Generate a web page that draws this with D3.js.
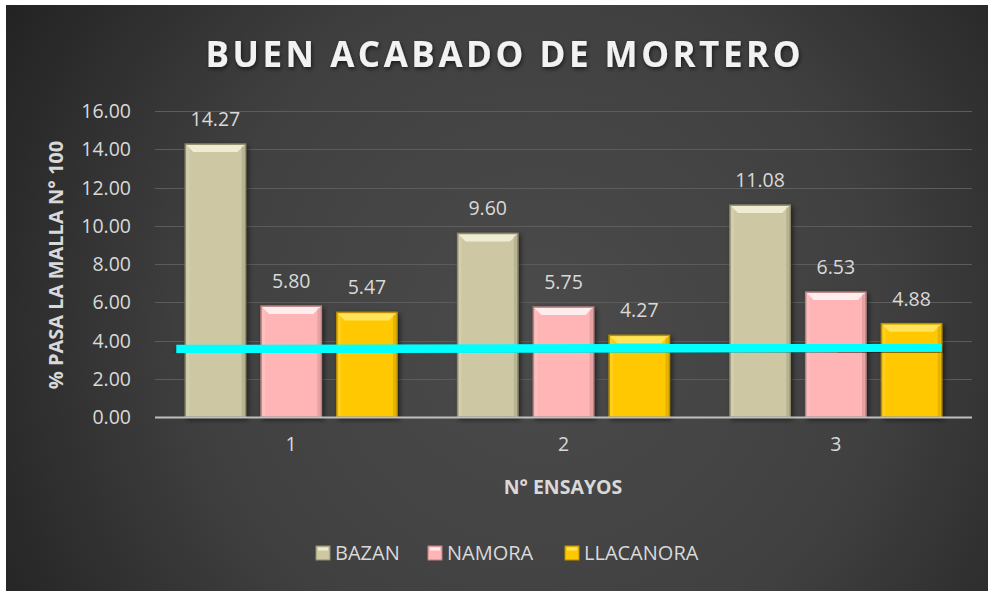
<!DOCTYPE html>
<html>
<head>
<meta charset="utf-8">
<script src="https://cdn.jsdelivr.net/npm/d3@7"></script>
<style>
  html, body { margin: 0; padding: 0; background: #fff; }
  svg { display: block; }
</style>
</head>
<body>
<svg id="chart" width="988" height="591"></svg>
<script>
// Chart data
const ensayos = ['1', '2', '3'];
const series = ['BAZAN', 'NAMORA', 'LLACANORA'];
const bazan = [14.27, 9.60, 11.08];
const namora = [5.80, 5.75, 6.53];
const llacanora = [5.47, 4.27, 4.88];
const limite = [3.55, 3.63];
const yTicks = [0, 2, 4, 6, 8, 10, 12, 14, 16];

const width = 988;
const height = 591;
const margin = {top: 111, right: 16, bottom: 174, left: 155};
const colors = {
  BAZAN: {fill: '#cdc8a3', top: '#f2efd8', edge: '#8f8b6c'},
  NAMORA: {fill: '#ffb5b5', top: '#fff2f2', edge: '#b98383'},
  LLACANORA: {fill: '#ffc800', top: '#ffe566', edge: '#b88f00'},
};
const textColor = '#d9d9d9';
const font = '"Open Sans", "Liberation Sans", sans-serif';

const values = {BAZAN: bazan, NAMORA: namora, LLACANORA: llacanora};
const rows = ensayos.map((e, i) => ({
  ensayo: e,
  bars: series.map((s) => ({serie: s, value: values[s][i]})),
}));

const svg = d3.select('#chart');
const defs = svg.append('defs');

// Background gradient
const bg = defs.append('radialGradient')
    .attr('id', 'bg')
    .attr('gradientUnits', 'userSpaceOnUse')
    .attr('cx', 540).attr('cy', 330).attr('r', 620);
bg.append('stop').attr('offset', '0%').attr('stop-color', '#4b4b4b');
bg.append('stop').attr('offset', '55%').attr('stop-color', '#404040');
bg.append('stop').attr('offset', '100%').attr('stop-color', '#232323');

const shadow = defs.append('filter').attr('id', 'shadow')
    .attr('x', '-20%').attr('y', '-20%').attr('width', '140%').attr('height', '140%');
shadow.append('feDropShadow').attr('dx', 2).attr('dy', 2)
    .attr('stdDeviation', 2.5).attr('flood-color', '#000').attr('flood-opacity', 0.55);

const lineShadow = defs.append('filter').attr('id', 'lineShadow')
    .attr('x', '-5%').attr('y', '-200%').attr('width', '110%').attr('height', '500%');
lineShadow.append('feDropShadow').attr('dx', 0).attr('dy', 4)
    .attr('stdDeviation', 2).attr('flood-color', '#000').attr('flood-opacity', 0.5);

const titleShadow = defs.append('filter').attr('id', 'titleShadow');
titleShadow.append('feDropShadow').attr('dx', 1).attr('dy', 2)
    .attr('stdDeviation', 2).attr('flood-color', '#000').attr('flood-opacity', 0.6);

svg.append('rect')
    .attr('x', 6).attr('y', 5)
    .attr('width', width - 6).attr('height', height - 5)
    .attr('fill', 'url(#bg)');

// Scales
const x0 = d3.scaleBand()
    .domain(ensayos)
    .range([margin.left, width - margin.right])
    .padding(0);
const x1 = d3.scaleBand()
    .domain(series)
    .range([0, x0.bandwidth()])
    .paddingInner(0.205)
    .paddingOuter(0.4);
const y = d3.scaleLinear()
    .domain([0, 16])
    .range([height - margin.bottom, margin.top]);

// Gridlines
svg.append('g')
    .selectAll('line')
    .data(yTicks.slice(1))
    .join('line')
    .attr('x1', margin.left)
    .attr('x2', width - margin.right)
    .attr('y1', (d) => Math.round(y(d)) + 0.5)
    .attr('y2', (d) => Math.round(y(d)) + 0.5)
    .attr('stroke', '#5c5c5c')
    .attr('stroke-width', 1.2);

// Y axis
const yAxis = d3.axisLeft(y)
    .tickValues(yTicks)
    .tickFormat(d3.format('.2f'))
    .tickSize(0)
    .tickPadding(0);
const gy = svg.append('g')
    .attr('transform', `translate(131,0)`)
    .call(yAxis);
gy.select('.domain').remove();
gy.selectAll('text')
    .attr('fill', textColor)
    .attr('font-family', font)
    .attr('font-size', 19.5)
    .attr('dy', '0.34em');

// Bars
const groups = svg.append('g')
    .selectAll('g')
    .data(rows)
    .join('g')
    .attr('transform', (d) => `translate(${x0(d.ensayo)},0)`);

const bar = groups.selectAll('g')
    .data((d) => d.bars)
    .join('g');

const bw = x1.bandwidth();
const bev = 8;

bar.append('rect')
    .attr('x', (d) => x1(d.serie))
    .attr('y', (d) => y(d.value))
    .attr('width', bw)
    .attr('height', (d) => y(0) - y(d.value))
    .attr('fill', (d) => colors[d.serie].fill)
    .attr('stroke', (d) => colors[d.serie].edge)
    .attr('stroke-width', 1.5)
    .attr('filter', 'url(#shadow)');

// Bevel top
bar.append('path')
    .attr('d', (d) => {
      const xs = x1(d.serie);
      const ys = y(d.value);
      return `M${xs + 1},${ys + 1}L${xs + bw - 1},${ys + 1}` +
        `L${xs + bw - bev},${ys + bev}L${xs + bev},${ys + bev}Z`;
    })
    .attr('fill', (d) => colors[d.serie].top)
    .attr('opacity', 0.9);

// Bevel sides
bar.append('rect')
    .attr('x', (d) => x1(d.serie) + 1)
    .attr('y', (d) => y(d.value) + 2)
    .attr('width', 3)
    .attr('height', (d) => Math.max(0, y(0) - y(d.value) - 3))
    .attr('fill', '#fff')
    .attr('opacity', 0.12);
bar.append('rect')
    .attr('x', (d) => x1(d.serie) + bw - 4)
    .attr('y', (d) => y(d.value) + 2)
    .attr('width', 3)
    .attr('height', (d) => Math.max(0, y(0) - y(d.value) - 3))
    .attr('fill', '#000')
    .attr('opacity', 0.1);

// Value labels
bar.append('text')
    .attr('x', (d) => x1(d.serie) + bw / 2)
    .attr('y', (d) => y(d.value) - 18)
    .attr('text-anchor', 'middle')
    .attr('fill', textColor)
    .attr('font-family', font)
    .attr('font-size', 19.5)
    .text((d) => d.value.toFixed(2));

// X axis baseline
svg.append('line')
    .attr('x1', margin.left)
    .attr('x2', width - margin.right)
    .attr('y1', y(0) + 0.5)
    .attr('y2', y(0) + 0.5)
    .attr('stroke', '#bfbfbf')
    .attr('stroke-width', 2);

const xAxis = d3.axisBottom(x0).tickSize(0).tickPadding(0);
const gx = svg.append('g')
    .attr('transform', `translate(0,${y(0)})`)
    .call(xAxis);
gx.select('.domain').remove();
gx.selectAll('text')
    .attr('fill', textColor)
    .attr('font-family', font)
    .attr('font-size', 19.5)
    .attr('dy', '1.72em');

// Limit line
const lineX = d3.scaleLinear()
    .domain([0, limite.length - 1])
    .range([x0(ensayos[0]) + x1(series[0]) - 9,
      x0(ensayos[ensayos.length - 1]) + x1(series[series.length - 1]) + bw]);
svg.append('path')
    .datum(limite)
    .attr('d', d3.line().x((d, i) => lineX(i)).y((d) => y(d)))
    .attr('fill', 'none')
    .attr('stroke', '#00ffff')
    .attr('stroke-width', 8.5)
    .attr('filter', 'url(#lineShadow)');

// Title
svg.append('text')
    .attr('x', 503)
    .attr('y', 67)
    .attr('text-anchor', 'middle')
    .attr('fill', '#f2f2f2')
    .attr('font-family', font)
    .attr('font-weight', 'bold')
    .attr('font-size', 35)
    .attr('textLength', 595)
    .attr('lengthAdjust', 'spacing')
    .attr('filter', 'url(#titleShadow)')
    .text('BUEN ACABADO DE MORTERO');

// Axis titles
svg.append('text')
    .attr('transform', 'translate(63,265) rotate(-90)')
    .attr('text-anchor', 'middle')
    .attr('fill', textColor)
    .attr('font-family', font)
    .attr('font-weight', 'bold')
    .attr('font-size', 20)
    .text('% PASA LA MALLA N° 100');

svg.append('text')
    .attr('x', 563)
    .attr('y', 494)
    .attr('text-anchor', 'middle')
    .attr('fill', textColor)
    .attr('font-family', font)
    .attr('font-weight', 'bold')
    .attr('font-size', 19.5)
    .text('N° ENSAYOS');

// Legend
const legendX = [316, 428, 565];
const legend = svg.append('g')
    .selectAll('g')
    .data(series)
    .join('g')
    .attr('transform', (d, i) => `translate(${legendX[i]},546)`);
legend.append('rect')
    .attr('width', 14).attr('height', 14)
    .attr('fill', (d) => colors[d].fill)
    .attr('stroke', (d) => colors[d].edge)
    .attr('stroke-width', 1);
legend.append('rect')
    .attr('x', 2).attr('y', 1.5).attr('width', 10).attr('height', 3)
    .attr('fill', (d) => colors[d].top)
    .attr('opacity', 0.9);
legend.append('text')
    .attr('x', 19)
    .attr('y', 14)
    .attr('fill', textColor)
    .attr('font-family', font)
    .attr('font-size', 20)
    .text((d) => d);
</script>
</body>
</html>
